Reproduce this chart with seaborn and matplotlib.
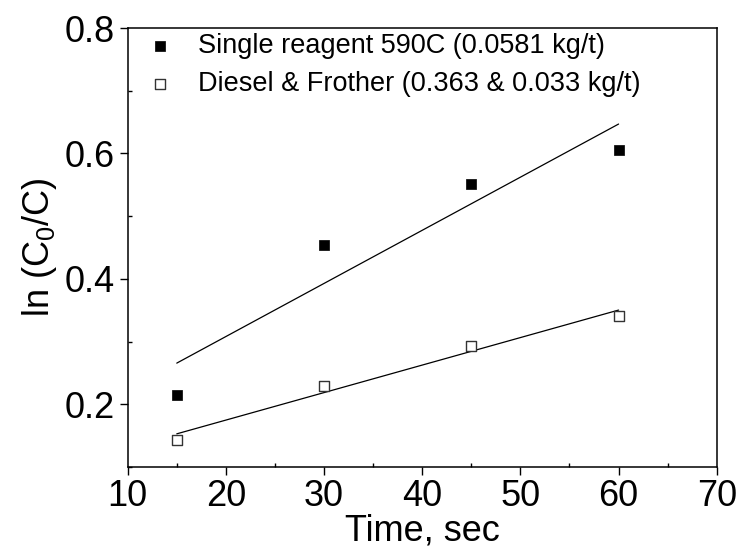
import numpy as np
import pandas as pd
import seaborn as sns
import matplotlib
matplotlib.use("Agg")
import matplotlib.pyplot as plt
from matplotlib.ticker import MultipleLocator

# Data
time_sec = [15, 30, 45, 60]
single_reagent = [0.214, 0.454, 0.552, 0.605]
diesel_frother = [0.143, 0.229, 0.293, 0.341]

label_single = "Single reagent 590C (0.0581 kg/t)"
label_diesel = "Diesel & Frother (0.363 & 0.033 kg/t)"

sns.set_style("ticks")
plt.rcParams["font.family"] = ["Liberation Sans", "DejaVu Sans"]
plt.rcParams["mathtext.fontset"] = "custom"
plt.rcParams["mathtext.rm"] = "Liberation Sans"
plt.rcParams["mathtext.it"] = "Liberation Sans:italic"
plt.rcParams["mathtext.default"] = "regular"
for key in ["text.color", "axes.labelcolor", "xtick.color", "ytick.color", "axes.edgecolor"]:
    plt.rcParams[key] = "black"

fig = plt.figure(figsize=(7.41, 5.5), dpi=100)
ax = fig.add_axes([0.1723, 0.151, 0.795, 0.798])

df_single = pd.DataFrame({"time": time_sec, "val": single_reagent})
df_diesel = pd.DataFrame({"time": time_sec, "val": diesel_frother})

# linear fits
sns.regplot(data=df_single, x="time", y="val", scatter=False, ci=None, ax=ax,
            line_kws={"color": "black", "linewidth": 0.9})
sns.regplot(data=df_diesel, x="time", y="val", scatter=False, ci=None, ax=ax,
            line_kws={"color": "black", "linewidth": 0.9})

# points
sns.scatterplot(data=df_single, x="time", y="val", marker="s", s=45, color="black",
                edgecolor="black", linewidth=0.5, label=label_single, ax=ax, zorder=3)
sns.scatterplot(data=df_diesel, x="time", y="val", marker="s", s=45, color="white",
                edgecolor="#333333", linewidth=1.0, label=label_diesel, ax=ax, zorder=3)

ax.set_xlim(10, 70)
ax.set_ylim(0.1, 0.8)
ax.xaxis.set_major_locator(MultipleLocator(10))
ax.xaxis.set_minor_locator(MultipleLocator(5))
ax.yaxis.set_minor_locator(MultipleLocator(0.1))
ax.set_yticks([0.2, 0.4, 0.6, 0.8])
ax.set_yticklabels(["0.2", "0.4", "0.6", "0.8"])

ax.tick_params(which="major", direction="out", length=6, width=1, labelsize=26, pad=3)
ax.tick_params(which="minor", direction="in", length=3, width=1)
for sp in ax.spines.values():
    sp.set_linewidth(1.1)

ax.set_xlabel("Time, sec", fontsize=26, labelpad=-1)
ax.set_ylabel("ln (C$_0$/C)", fontsize=26, labelpad=4)

ax.legend(loc="upper left", frameon=False, fontsize=19.5, handletextpad=0.9,
          borderaxespad=0.2, labelspacing=0.42, bbox_to_anchor=(0.005, 1.025),
          handlelength=1.0)

fig.savefig("out.png", dpi=100)
